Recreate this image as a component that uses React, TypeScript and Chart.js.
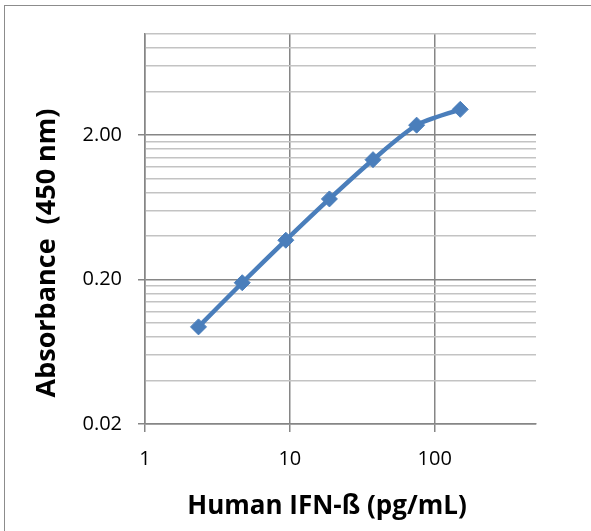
import React, { useEffect, useRef } from "react";
import { Chart, registerables } from "chart.js";

Chart.register(...registerables);

const concentrations = [2.34, 4.69, 9.38, 18.75, 37.5, 75, 150];
const absorbance = [0.094, 0.19, 0.374, 0.722, 1.35, 2.34, 3.01];
const yMajorTicks = [0.02, 0.2, 2];
const yMinorTicks = [
  0.04, 0.06, 0.08, 0.1, 0.12, 0.14, 0.16, 0.18,
  0.4, 0.6, 0.8, 1.0, 1.2, 1.4, 1.6, 1.8,
  4, 6, 8, 10,
];
const xMajorTicks = [1, 10, 100];
const xTitle = "Human IFN-ß (pg/mL)";
const yTitle = "Absorbance  (450 nm)";

const FONT = '"Open Sans", "DejaVu Sans", sans-serif';
const MAJOR = "#868686";
const MINOR = "#c3c3c3";

const isMajorY = (v: number) => yMajorTicks.some((m) => Math.abs(m - v) < 1e-9);

const axisTitles = {
  id: "axisTitles",
  afterDraw(chart: any) {
    const ctx = chart.ctx;
    ctx.save();
    ctx.fillStyle = "#000";
    ctx.textAlign = "center";
    ctx.textBaseline = "middle";
    ctx.font = `bold 26px ${FONT}`;
    ctx.fillText(xTitle, 327, 507);
    ctx.font = `bold 27px ${FONT}`;
    ctx.translate(47, 253);
    ctx.rotate(-Math.PI / 2);
    ctx.fillText(yTitle, 0, 0);
    ctx.restore();
  },
};

export default function App() {
  const ref = useRef<HTMLCanvasElement | null>(null);
  useEffect(() => {
    document.body.style.margin = "0";
    if (!ref.current) return;
    const chart = new Chart(ref.current, {
      type: "line",
      data: {
        datasets: [
          {
            data: concentrations.map((x, i) => ({ x, y: absorbance[i] })),
            borderColor: "#4a7ebb",
            backgroundColor: "#4a7ebb",
            borderWidth: 4.5,
            pointStyle: "rectRot",
            pointRadius: 8,
            pointBorderWidth: 1,
            pointBorderColor: "#4a7ebb",
            tension: 0.25,
          },
        ],
      },
      options: {
        responsive: false,
        animation: false,
        layout: { padding: { left: 0, right: 55, top: 34, bottom: 0 } },
        plugins: { legend: { display: false }, tooltip: { enabled: false } },
        scales: {
          x: {
            type: "logarithmic",
            min: 1,
            max: 500,
            afterBuildTicks: (s: any) => {
              s.ticks = xMajorTicks.map((v) => ({ value: v }));
            },
            afterFit: (s: any) => {
              s.height = 107;
            },
            ticks: {
              autoSkip: false,
              maxRotation: 0,
              callback: (v: any) => String(v),
              font: { family: FONT, size: 20 },
              color: "#000",
              padding: 15,
            },
            grid: { color: MAJOR, lineWidth: 1.5, tickLength: 8, tickColor: MAJOR },
            border: { color: MAJOR, width: 1.5 },
          },
          y: {
            type: "logarithmic",
            min: 0.02,
            max: 10,
            afterBuildTicks: (s: any) => {
              s.ticks = [...yMajorTicks, ...yMinorTicks]
                .sort((a, b) => a - b)
                .map((v) => ({ value: v }));
            },
            afterFit: (s: any) => {
              s.width = 145;
            },
            ticks: {
              autoSkip: false,
              callback: (v: any) => (isMajorY(Number(v)) ? Number(v).toFixed(2) : ""),
              font: { family: FONT, size: 20 },
              color: "#000",
              padding: 16,
            },
            grid: {
              color: (c: any) => (c.tick && isMajorY(c.tick.value) ? MAJOR : MINOR),
              tickColor: (c: any) => (c.tick && isMajorY(c.tick.value) ? MAJOR : "rgba(0,0,0,0)"),
              lineWidth: 1.5,
              tickLength: 7,
            },
            border: { color: MAJOR, width: 1.5 },
          },
        },
      },
      plugins: [axisTitles],
    } as any);
    return () => chart.destroy();
  }, []);

  return (
    <div style={{ position: "absolute", left: 0, top: 0, width: 591, height: 531, overflow: "hidden", background: "#fff" }}>
      <canvas ref={ref} width={591} height={531} style={{ position: "absolute", left: 0, top: 0 }} />
      <div
        style={{
          position: "absolute",
          left: 4,
          top: 5,
          width: 620,
          height: 560,
          border: "1.5px solid #8c8c8c",
          pointerEvents: "none",
        }}
      />
    </div>
  );
}
